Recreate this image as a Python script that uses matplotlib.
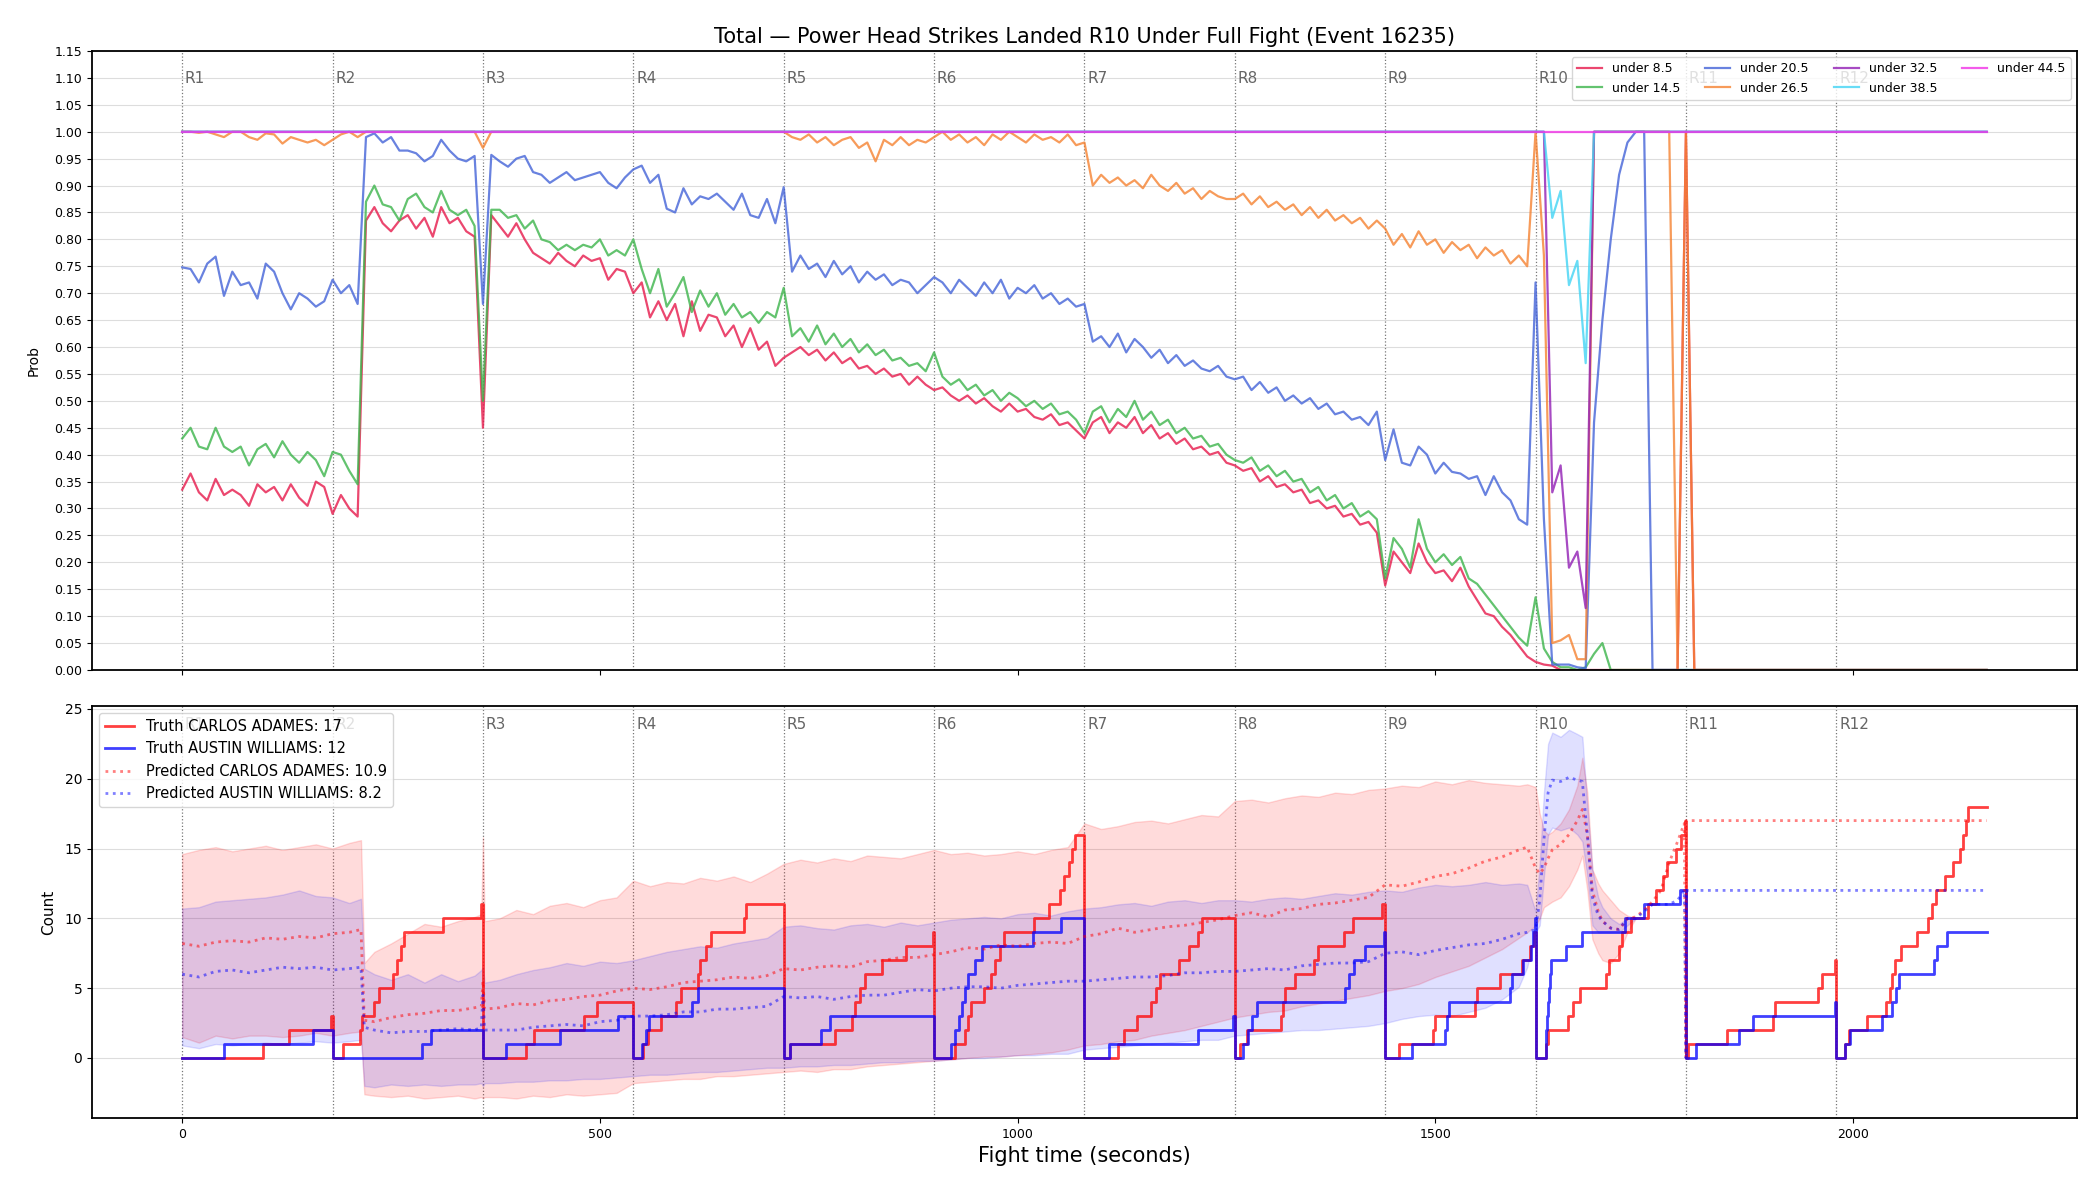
import numpy as np
import matplotlib.pyplot as plt

TITLE = "Total — Power Head Strikes Landed R10 Under Full Fight (Event 16235)"
ROUND_LEN = 180
N_ROUNDS = 12
FIGHT_END = 2160

# ---------------- top panel: P(total under line), one value every 10 s ----------------
PROB_STEP = 10
line_labels = ["under 8.5", "under 14.5", "under 20.5", "under 26.5",
               "under 32.5", "under 38.5", "under 44.5"]
line_colors = ["#e6194b", "#3cb44b", "#4363d8", "#f58231",
               "#911eb4", "#42d4f4", "#f032e6"]

under_8_5 = (
    [0.335, 0.365, 0.330, 0.315, 0.355, 0.325, 0.335, 0.325, 0.305, 0.345, 0.330, 0.340, 0.315, 0.345, 0.320, 0.305, 0.350, 0.340]
    + [0.290, 0.325, 0.300, 0.285, 0.835, 0.860, 0.830, 0.815, 0.835, 0.845, 0.820, 0.840, 0.805, 0.860, 0.830, 0.840, 0.815, 0.805]
    + [0.450, 0.845, 0.825, 0.805, 0.830, 0.800, 0.775, 0.765, 0.755, 0.775, 0.760, 0.750, 0.770, 0.760, 0.765, 0.725, 0.745, 0.740]
    + [0.700, 0.720, 0.655, 0.685, 0.650, 0.680, 0.620, 0.685, 0.630, 0.660, 0.655, 0.620, 0.640, 0.600, 0.635, 0.595, 0.610, 0.565]
    + [0.580, 0.590, 0.600, 0.585, 0.595, 0.575, 0.590, 0.570, 0.580, 0.560, 0.565, 0.550, 0.560, 0.545, 0.550, 0.530, 0.545, 0.530]
    + [0.520, 0.525, 0.510, 0.500, 0.510, 0.495, 0.505, 0.490, 0.480, 0.495, 0.480, 0.485, 0.470, 0.465, 0.475, 0.455, 0.460, 0.445]
    + [0.430, 0.460, 0.470, 0.440, 0.460, 0.450, 0.470, 0.440, 0.455, 0.430, 0.440, 0.420, 0.430, 0.410, 0.415, 0.400, 0.405, 0.385]
    + [0.380, 0.370, 0.375, 0.350, 0.360, 0.340, 0.345, 0.330, 0.335, 0.310, 0.315, 0.300, 0.305, 0.285, 0.290, 0.270, 0.275, 0.255]
    + [0.157, 0.220, 0.200, 0.180, 0.235, 0.200, 0.180, 0.185, 0.165, 0.190, 0.155, 0.130, 0.105, 0.100, 0.080, 0.065, 0.045, 0.025]
    + [0.015, 0.010, 0.008] + [0.0] * 15
    + [1.0] + [0.0] * 17
    + [0.0] * 18
    + [0.0]
)

under_14_5 = (
    [0.430, 0.450, 0.415, 0.410, 0.450, 0.415, 0.405, 0.415, 0.380, 0.410, 0.420, 0.395, 0.425, 0.400, 0.385, 0.405, 0.390, 0.360]
    + [0.405, 0.400, 0.370, 0.345, 0.870, 0.900, 0.865, 0.860, 0.835, 0.875, 0.885, 0.860, 0.850, 0.890, 0.855, 0.845, 0.855, 0.825]
    + [0.500, 0.855, 0.855, 0.840, 0.845, 0.820, 0.835, 0.800, 0.795, 0.780, 0.790, 0.780, 0.790, 0.785, 0.800, 0.770, 0.780, 0.770]
    + [0.800, 0.745, 0.700, 0.745, 0.675, 0.700, 0.730, 0.665, 0.705, 0.675, 0.700, 0.660, 0.680, 0.655, 0.665, 0.645, 0.665, 0.655]
    + [0.710, 0.620, 0.635, 0.610, 0.640, 0.605, 0.625, 0.600, 0.615, 0.590, 0.605, 0.585, 0.595, 0.575, 0.580, 0.565, 0.570, 0.555]
    + [0.590, 0.545, 0.530, 0.540, 0.520, 0.530, 0.510, 0.520, 0.500, 0.515, 0.505, 0.490, 0.500, 0.485, 0.495, 0.475, 0.480, 0.465]
    + [0.440, 0.480, 0.490, 0.460, 0.485, 0.470, 0.500, 0.465, 0.480, 0.455, 0.465, 0.440, 0.450, 0.430, 0.435, 0.415, 0.420, 0.400]
    + [0.390, 0.385, 0.395, 0.370, 0.380, 0.360, 0.370, 0.350, 0.355, 0.330, 0.340, 0.315, 0.325, 0.300, 0.310, 0.285, 0.295, 0.280]
    + [0.170, 0.245, 0.225, 0.190, 0.280, 0.225, 0.200, 0.215, 0.195, 0.210, 0.170, 0.160, 0.140, 0.120, 0.100, 0.080, 0.060, 0.045]
    + [0.135, 0.040, 0.015, 0.005, 0.005, 0.000, 0.005, 0.030, 0.050] + [0.0] * 9
    + [0.0] * 18
    + [0.0] * 18
    + [0.0]
)

under_20_5 = (
    [0.748, 0.745, 0.720, 0.755, 0.768, 0.695, 0.740, 0.715, 0.720, 0.690, 0.755, 0.740, 0.700, 0.670, 0.700, 0.690, 0.675, 0.685]
    + [0.725, 0.700, 0.715, 0.680, 0.990, 0.997, 0.980, 0.990, 0.965, 0.965, 0.960, 0.945, 0.955, 0.985, 0.965, 0.950, 0.945, 0.955]
    + [0.680, 0.957, 0.945, 0.935, 0.950, 0.955, 0.925, 0.920, 0.905, 0.915, 0.925, 0.910, 0.915, 0.920, 0.925, 0.905, 0.895, 0.915]
    + [0.930, 0.937, 0.905, 0.920, 0.857, 0.850, 0.895, 0.865, 0.880, 0.875, 0.885, 0.870, 0.855, 0.885, 0.845, 0.840, 0.875, 0.830]
    + [0.897, 0.740, 0.770, 0.745, 0.755, 0.730, 0.760, 0.735, 0.750, 0.720, 0.740, 0.725, 0.735, 0.715, 0.725, 0.720, 0.700, 0.715]
    + [0.730, 0.720, 0.700, 0.725, 0.710, 0.695, 0.720, 0.700, 0.725, 0.690, 0.710, 0.700, 0.715, 0.690, 0.700, 0.680, 0.690, 0.675]
    + [0.680, 0.610, 0.620, 0.600, 0.625, 0.590, 0.615, 0.600, 0.580, 0.595, 0.570, 0.585, 0.565, 0.575, 0.560, 0.555, 0.565, 0.545]
    + [0.540, 0.545, 0.520, 0.535, 0.515, 0.525, 0.500, 0.510, 0.495, 0.505, 0.485, 0.495, 0.475, 0.480, 0.465, 0.470, 0.455, 0.480]
    + [0.390, 0.447, 0.385, 0.380, 0.415, 0.400, 0.365, 0.385, 0.368, 0.365, 0.355, 0.360, 0.325, 0.360, 0.330, 0.315, 0.280, 0.270]
    + [0.720, 0.280, 0.010, 0.010, 0.010, 0.005, 0.003, 0.460, 0.650, 0.800, 0.920, 0.980, 1.000, 1.000, 0.000, 0.000, 0.000, 0.000]
    + [0.0] * 18
    + [0.0] * 18
    + [0.0]
)

under_26_5 = (
    [1.000, 1.000, 0.998, 1.000, 0.995, 0.990, 1.000, 1.000, 0.990, 0.985, 0.997, 0.995, 0.978, 0.990, 0.985, 0.980, 0.985, 0.975]
    + [0.985, 0.995, 1.000, 0.990] + [1.0] * 14
    + [0.970] + [1.0] * 17
    + [1.0] * 18
    + [1.000, 0.990, 0.985, 0.995, 0.980, 0.990, 0.975, 0.985, 0.990, 0.970, 0.980, 0.945, 0.985, 0.975, 0.990, 0.975, 0.985, 0.980]
    + [0.990, 1.000, 0.985, 0.995, 0.980, 0.990, 0.975, 0.995, 0.985, 1.000, 0.990, 0.980, 0.995, 0.985, 0.990, 0.980, 0.995, 0.975]
    + [0.980, 0.900, 0.920, 0.905, 0.915, 0.900, 0.910, 0.895, 0.920, 0.900, 0.890, 0.905, 0.885, 0.895, 0.875, 0.890, 0.880, 0.875]
    + [0.875, 0.885, 0.865, 0.880, 0.860, 0.870, 0.855, 0.865, 0.845, 0.860, 0.840, 0.855, 0.835, 0.845, 0.830, 0.840, 0.820, 0.835]
    + [0.820, 0.790, 0.810, 0.785, 0.815, 0.790, 0.800, 0.775, 0.795, 0.780, 0.790, 0.765, 0.785, 0.770, 0.780, 0.755, 0.770, 0.750]
    + [1.000, 0.770, 0.050, 0.055, 0.065, 0.020, 0.020] + [1.0] * 10 + [0.0]
    + [1.0] + [0.0] * 17
    + [0.0] * 18
    + [0.0]
)

under_32_5 = (
    [1.0] * (9 * 18)
    + [1.0, 1.0, 0.330, 0.380, 0.190, 0.220, 0.115] + [1.0] * 11
    + [1.0] * 36
    + [1.0]
)

under_38_5 = (
    [1.0] * (9 * 18)
    + [1.0, 1.0, 0.840, 0.890, 0.715, 0.760, 0.570] + [1.0] * 11
    + [1.0] * 36
    + [1.0]
)

under_44_5 = [1.0] * (12 * 18 + 1)

prob_series = [under_8_5, under_14_5, under_20_5, under_26_5,
               under_32_5, under_38_5, under_44_5]

# ---------------- bottom panel: counts ----------------
fighter_a = "CARLOS ADAMES"
fighter_b = "AUSTIN WILLIAMS"
truth_a_total, truth_b_total = 17, 12
pred_a_total, pred_b_total = 10.9, 8.2

# strike times (s) per round, the truth line restarts at 0 each round
events_a = [
    [97, 128, 178],
    [193, 213, 215, 230, 236, 252, 257, 262, 266, 312, 358],
    [412, 421, 481, 497],
    [552, 557, 573, 591, 597, 617, 620, 627, 633, 672, 675],
    [728, 782, 802, 805, 811, 817, 838, 867, 899],
    [925, 937, 941, 944, 960, 968, 973, 979, 984, 1020, 1038, 1051, 1056, 1061, 1065, 1069],
    [1120, 1127, 1143, 1160, 1166, 1171, 1193, 1205, 1216, 1221],
    [1266, 1274, 1315, 1318, 1320, 1332, 1355, 1359, 1391, 1401, 1436],
    [1457, 1497, 1500, 1547, 1550, 1578, 1604, 1613, 1618],
    [1633, 1635, 1659, 1665, 1673, 1704, 1708, 1720, 1724, 1734, 1755, 1764, 1772, 1777, 1788, 1794, 1799],
    [1803, 1849, 1904, 1907, 1958, 1963, 1978],
    [1990, 1995, 2017, 2040, 2044, 2047, 2050, 2058, 2077, 2090, 2095, 2099, 2110, 2120, 2128, 2132, 2135, 2138],
]
events_b = [
    [50, 157],
    [287, 298],
    [388, 452, 522],
    [550, 555, 559, 610, 618],
    [728, 765, 776],
    [920, 925, 930, 933, 937, 941, 949, 957, 1019, 1052],
    [1109, 1216, 1258],
    [1270, 1276, 1281, 1287, 1392, 1397, 1403, 1416, 1438],
    [1472, 1512, 1514, 1516, 1590, 1592, 1605, 1614, 1617, 1619],
    [1632, 1633, 1634, 1635, 1636, 1637, 1638, 1657, 1675, 1727, 1750, 1793],
    [1812, 1863, 1880, 1978],
    [1990, 1996, 2035, 2047, 2051, 2055, 2097, 2101, 2112],
]

band_t = ([0, 20, 40, 60, 80, 100, 120, 140, 160, 180, 200, 214]
          + [218, 230, 250, 270, 290, 310, 330, 350, 358]
          + [360, 362]
          + list(range(380, 1601, 20))
          + [1610, 1620, 1625, 1630, 1635, 1640, 1650, 1660, 1670, 1676, 1682,
             1688, 1695, 1700, 1710, 1720, 1730, 1740])
pred_t = band_t + [1750, 1760, 1770, 1780, 1790, 1798, 1800, 1800, 2160]

pred_a = ([8.2, 8.0, 8.3, 8.4, 8.3, 8.6, 8.5, 8.7, 8.6, 8.9, 9.0, 9.2]
          + [2.7, 2.6, 2.9, 3.1, 3.2, 3.4, 3.4, 3.6, 3.7]
          + [5.5, 3.5]
          + [3.6, 3.9, 3.8, 4.1, 4.2, 4.4, 4.5, 4.8]
          + [5.0, 4.9, 5.1, 5.4, 5.5, 5.6, 5.8, 5.7, 5.9]
          + [6.4, 6.3, 6.5, 6.6, 6.5, 6.9, 7.0, 7.2, 7.2]
          + [7.4, 7.6, 7.9, 7.8, 8.1, 8.0, 8.2, 8.3, 8.2]
          + [8.7, 8.9, 9.3, 9.0, 9.2, 9.4, 9.5, 9.7, 9.9]
          + [10.2, 10.4, 10.1, 10.6, 10.7, 11.0, 11.1, 11.3, 11.5]
          + [12.4, 12.3, 12.6, 13.0, 13.2, 13.6, 14.1, 14.4, 14.9]
          + [15.1, 13.6, 13.2, 13.6, 14.3, 14.9, 15.3, 16.0, 17.0, 17.8, 16.0, 12.0,
             10.5, 9.8, 9.3, 9.2, 10.0, 10.1, 10.6, 11.2, 12.0, 14.0, 15.5, 16.8,
             0.0, 17.0, 17.0])

pred_b = ([6.0, 5.8, 6.2, 6.3, 6.1, 6.3, 6.5, 6.4, 6.5, 6.3, 6.4, 6.5]
          + [2.2, 2.0, 1.8, 1.9, 1.9, 2.0, 2.1, 2.0, 2.2]
          + [4.5, 2.0]
          + [2.0, 2.0, 2.2, 2.3, 2.4, 2.3, 2.6, 2.7]
          + [3.0, 3.0, 3.1, 3.3, 3.3, 3.5, 3.5, 3.6, 3.7]
          + [4.4, 4.3, 4.4, 4.2, 4.4, 4.5, 4.5, 4.7, 4.9]
          + [4.8, 5.0, 5.1, 5.1, 5.0, 5.2, 5.3, 5.4, 5.5]
          + [5.5, 5.6, 5.7, 5.8, 5.8, 5.9, 6.1, 6.1, 6.2]
          + [6.2, 6.3, 6.4, 6.3, 6.6, 6.7, 6.8, 6.8, 6.9]
          + [7.5, 7.6, 7.4, 7.7, 7.9, 8.1, 8.2, 8.5, 8.9]
          + [9.0, 9.2, 11.3, 15.6, 19.0, 19.9, 19.8, 20.1, 19.9, 19.8, 16.0, 11.5,
             10.2, 9.8, 9.3, 9.2, 10.0, 10.0, 10.5, 11.0, 11.0, 11.0, 11.3, 12.0,
             0.0, 12.0, 12.0])

band_a_hi = ([14.6, 14.9, 15.1, 14.8, 15.0, 15.2, 14.9, 15.1, 15.3, 15.0, 15.4, 15.6]
             + [6.8, 7.6, 8.2, 8.9, 9.6, 9.4, 9.8, 10.1, 10.3]
             + [15.8, 9.8]
             + [10.0, 10.6, 10.3, 10.9, 11.1, 10.8, 11.3, 11.5]
             + [12.7, 12.3, 12.6, 12.5, 12.9, 12.7, 13.0, 12.6, 13.2]
             + [13.9, 14.2, 14.0, 14.3, 14.1, 14.5, 14.4, 14.3, 14.6]
             + [14.9, 14.6, 14.7, 14.5, 14.6, 14.8, 14.6, 14.9, 15.1]
             + [16.8, 16.4, 16.6, 16.9, 17.0, 16.8, 17.1, 17.4, 17.3]
             + [18.4, 18.5, 18.3, 18.6, 18.8, 18.7, 19.0, 18.9, 19.2]
             + [19.3, 19.5, 19.4, 19.8, 19.6, 19.9, 19.7, 19.6, 19.5]
             + [19.6, 19.4, 17.5, 16.3, 16.0, 16.2, 16.8, 17.8, 19.5, 21.5, 19.0, 13.5,
                12.5, 12.0, 11.3, 10.6, 10.2, 10.0])

band_a_lo = ([1.5, 1.1, 1.6, 1.4, 1.6, 1.6, 1.5, 1.6, 1.8, 1.6, 1.8, 1.9]
             + [-2.6, -2.7, -2.8, -2.7, -2.9, -2.8, -2.7, -2.9, -2.8]
             + [-2.9, -2.8]
             + [-2.8, -2.9, -2.7, -2.8, -2.6, -2.7, -2.6, -2.5]
             + [-1.8, -1.7, -1.6, -1.5, -1.5, -1.3, -1.3, -1.2, -1.1]
             + [-1.0, -0.9, -1.0, -0.8, -0.8, -0.6, -0.5, -0.4, -0.3]
             + [-0.2, -0.1, 0.0, 0.1, 0.1, 0.2, 0.3, 0.4, 0.6]
             + [0.9, 1.0, 1.2, 1.3, 1.6, 1.8, 2.0, 2.3, 2.6]
             + [2.9, 3.1, 3.3, 3.4, 3.7, 3.9, 4.1, 4.3, 4.5]
             + [4.8, 5.0, 5.3, 5.8, 6.2, 6.6, 7.2, 7.8, 8.6]
             + [9.0, 9.5, 10.0, 10.8, 11.0, 11.2, 11.5, 12.3, 13.5, 14.5, 12.0, 8.5,
                7.5, 7.0, 6.8, 7.5, 9.0, 10.0])

band_b_hi = ([10.7, 10.8, 11.2, 11.3, 11.4, 11.5, 11.7, 12.0, 11.6, 11.5, 11.1, 11.4]
             + [6.4, 6.0, 5.6, 6.0, 5.4, 6.0, 5.5, 5.9, 6.3]
             + [6.5, 5.4]
             + [5.6, 6.0, 6.3, 6.5, 6.8, 6.6, 6.9, 6.8]
             + [7.0, 7.3, 7.6, 7.8, 8.0, 7.9, 8.2, 8.4, 8.6]
             + [9.4, 9.5, 9.3, 9.2, 9.5, 9.6, 9.4, 9.7, 9.5]
             + [9.7, 9.9, 10.0, 10.1, 10.0, 10.3, 10.4, 10.2, 10.5]
             + [10.7, 10.8, 11.0, 11.1, 10.9, 11.2, 11.3, 11.1, 11.3]
             + [11.3, 11.2, 11.4, 11.5, 11.4, 11.6, 11.8, 11.7, 11.9]
             + [12.0, 11.9, 12.2, 12.4, 12.3, 12.4, 12.6, 12.4, 12.5]
             + [12.4, 10.5, 14.0, 19.0, 22.5, 23.3, 23.0, 23.5, 23.2, 23.0, 18.0, 13.5,
                11.5, 10.8, 10.0, 9.6, 10.0, 10.0])

band_b_lo = ([0.9, 0.7, 1.0, 0.9, 1.0, 1.1, 1.0, 1.1, 1.2, 1.1, 1.2, 1.3]
             + [-2.0, -2.1, -1.9, -2.0, -1.9, -2.0, -1.9, -1.9, -1.8]
             + [-2.0, -1.8]
             + [-1.8, -1.7, -1.7, -1.6, -1.6, -1.5, -1.5, -1.4]
             + [-1.3, -1.2, -1.2, -1.1, -1.0, -1.0, -0.9, -0.8, -0.7]
             + [-0.7, -0.6, -0.6, -0.5, -0.5, -0.4, -0.3, -0.3, -0.2]
             + [-0.2, -0.1, 0.0, 0.0, 0.1, 0.2, 0.2, 0.3, 0.3]
             + [0.6, 0.7, 0.8, 0.9, 1.0, 1.1, 1.2, 1.3, 1.3]
             + [1.6, 1.7, 1.8, 1.9, 2.0, 2.0, 2.1, 2.2, 2.3]
             + [2.5, 2.8, 3.0, 3.1, 3.0, 3.3, 3.6, 4.2, 5.1]
             + [6.5, 9.0, 9.5, 13.0, 16.0, 16.5, 16.3, 16.5, 16.0, 15.5, 13.0, 9.5,
                9.0, 9.0, 9.0, 9.0, 9.5, 10.0])


def round_steps(events_by_round):
    # cumulative count inside each round, dropping back to 0 at the next bell
    xs, ys = [], []
    for r, ev in enumerate(events_by_round):
        t0 = r * ROUND_LEN
        t1 = min(t0 + ROUND_LEN, FIGHT_END)
        xs.append(t0)
        ys.append(0)
        for k, e in enumerate(ev, 1):
            xs.append(e)
            ys.append(k)
        xs.append(t1)
        ys.append(len(ev))
    return xs, ys


fig = plt.figure(figsize=(21, 12), dpi=100)
ax1 = fig.add_axes([0.0438, 0.4417, 0.9452, 0.5158])
ax2 = fig.add_axes([0.0438, 0.0683, 0.9452, 0.3433], sharex=ax1)

# top panel
t_prob = np.arange(len(under_8_5)) * PROB_STEP
for vals, lab, col in zip(prob_series, line_labels, line_colors):
    ax1.plot(t_prob, vals, color=col, lw=1.6, alpha=0.8, label=lab)

ax1.set_ylim(0, 1.15)
ax1.set_yticks(np.arange(0, 1.151, 0.05))
ax1.yaxis.set_major_formatter(plt.FormatStrFormatter("%.2f"))
ax1.set_ylabel("Prob", fontsize=10, labelpad=10)
ax1.set_title(TITLE, fontsize=15)
ax1.legend(loc="upper right", ncol=4, fontsize=9)
ax1.tick_params(labelbottom=False, labelsize=9)

# bottom panel
ax2.fill_between(band_t, band_a_lo, band_a_hi, color="red", alpha=0.14)
ax2.fill_between(band_t, band_b_lo, band_b_hi, color="blue", alpha=0.12)

xa, ya = round_steps(events_a)
xb, yb = round_steps(events_b)
ax2.plot(xa, ya, drawstyle="steps-post", color="red", lw=2, alpha=0.75,
         label=f"Truth {fighter_a}: {truth_a_total}")
ax2.plot(xb, yb, drawstyle="steps-post", color="blue", lw=2, alpha=0.75,
         label=f"Truth {fighter_b}: {truth_b_total}")
ax2.plot(pred_t, pred_a, ":", color="red", lw=2, alpha=0.5,
         label=f"Predicted {fighter_a}: {pred_a_total}")
ax2.plot(pred_t, pred_b, ":", color="blue", lw=2, alpha=0.5,
         label=f"Predicted {fighter_b}: {pred_b_total}")

ax2.set_ylim(-4.3, 25.2)
ax2.set_ylabel("Count", fontsize=11, labelpad=6)
ax2.set_xlabel("Fight time (seconds)", fontsize=15)
ax2.legend(loc="upper left", fontsize=10.5)
ax2.tick_params(axis="x", labelsize=9)
ax2.tick_params(axis="y", labelsize=10)

ax1.set_xlim(-108, 2268)

for ax in (ax1, ax2):
    ax.grid(axis="y", color="#dddddd", lw=0.8)
    ax.set_axisbelow(True)
    for s in ax.spines.values():
        s.set_linewidth(1.3)
    for r in range(N_ROUNDS):
        t0 = r * ROUND_LEN
        ax.axvline(t0, color="#555555", ls=":", lw=0.9, alpha=0.8, zorder=0.5)
        ax.annotate(f"R{r + 1}", (t0, 0.955), xycoords=("data", "axes fraction"),
                    xytext=(2, 0), textcoords="offset points", va="center",
                    fontsize=11, color="#666666")

fig.savefig("out.png", dpi=100)
